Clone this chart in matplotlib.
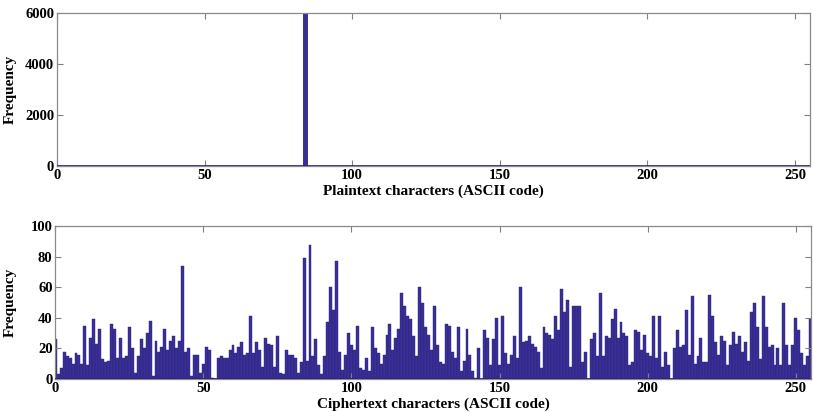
import matplotlib
matplotlib.use("Agg")
import matplotlib.pyplot as plt
import numpy as np

# plaintext histogram: only one character present
plain_codes = [84]
plain_freq = [6000]

# ciphertext histogram, one value per ASCII code 0..255
cipher_freq = [
    26, 3, 7, 18, 15, 14, 10, 17, 16, 10,
    35, 9, 27, 39, 23, 33, 13, 11, 12, 36,
    33, 14, 27, 14, 15, 34, 20, 4, 15, 26,
    20, 30, 38, 2, 25, 18, 21, 33, 19, 25,
    28, 20, 25, 74, 18, 20, 2, 16, 16, 4,
    10, 21, 19, 1, 0, 14, 15, 14, 14, 19,
    22, 17, 21, 24, 16, 17, 41, 17, 24, 19,
    8, 27, 23, 22, 8, 28, 4, 3, 19, 16,
    16, 14, 4, 11, 79, 12, 88, 15, 26, 9,
    3, 15, 37, 60, 45, 77, 18, 6, 16, 30,
    22, 19, 35, 7, 6, 14, 5, 34, 20, 17,
    10, 16, 29, 36, 19, 27, 33, 56, 48, 41,
    39, 28, 15, 60, 50, 34, 29, 19, 48, 22,
    11, 10, 36, 35, 18, 14, 34, 5, 12, 33,
    16, 5, 1, 20, 0, 32, 27, 9, 26, 40,
    9, 41, 17, 10, 16, 28, 14, 60, 24, 25,
    28, 23, 21, 18, 7, 34, 30, 29, 26, 41,
    32, 59, 44, 52, 8, 48, 48, 48, 11, 18,
    0, 26, 30, 15, 56, 15, 28, 27, 39, 46,
    27, 37, 30, 28, 9, 11, 32, 31, 19, 29,
    17, 15, 41, 14, 41, 8, 18, 9, 0, 20,
    32, 21, 22, 45, 16, 54, 10, 15, 27, 11,
    11, 55, 41, 24, 16, 28, 25, 9, 22, 31,
    23, 28, 18, 24, 12, 44, 50, 34, 13, 54,
    34, 21, 22, 9, 20, 9, 50, 22, 9, 22,
    40, 32, 17, 9, 15, 39,
]
codes = np.arange(256)

face = "#3a2f96"
edge = "#2a2278"
font = {"family": "Liberation Serif", "weight": "bold", "size": 11}

fig = plt.figure(figsize=(8.13, 4.12), dpi=100)
ax1 = fig.add_axes([0.070, 0.597, 0.926, 0.371])
ax2 = fig.add_axes([0.068, 0.080, 0.929, 0.371])

ax1.bar(plain_codes, plain_freq, width=1.2, color=face, edgecolor=edge, linewidth=0.6)
ax1.set_xlim(0, 255)
ax1.set_ylim(0, 6000)
ax1.set_yticks([0, 2000, 4000, 6000])
ax1.set_xticks([0, 50, 100, 150, 200, 250])
ax1.set_xlabel("Plaintext characters (ASCII code)", fontdict=font, labelpad=2)
ax1.set_ylabel("Frequency", fontdict=font, labelpad=6)

ax2.bar(codes, cipher_freq, width=1.0, color=face, edgecolor=edge, linewidth=0.3)
ax2.set_xlim(0, 255)
ax2.set_ylim(0, 100)
ax2.set_yticks([0, 20, 40, 60, 80, 100])
ax2.set_xticks([0, 50, 100, 150, 200, 250])
ax2.set_xlabel("Ciphertext characters (ASCII code)", fontdict=font, labelpad=2)
ax2.set_ylabel("Frequency", fontdict=font, labelpad=10)

for ax in (ax1, ax2):
    ax.axhline(0, color=edge, linewidth=1.2, zorder=3)
    ax.tick_params(direction="in", top=True, right=True, length=4, width=0.8,
                   color="#808080", pad=2)
    for lab in ax.get_xticklabels() + ax.get_yticklabels():
        lab.set_fontfamily("Liberation Serif")
        lab.set_fontweight("bold")
        lab.set_fontsize(10.5)
    for s in ax.spines.values():
        s.set_color("#8a8a8a")
        s.set_linewidth(0.9)

fig.savefig("out.png", dpi=100)
